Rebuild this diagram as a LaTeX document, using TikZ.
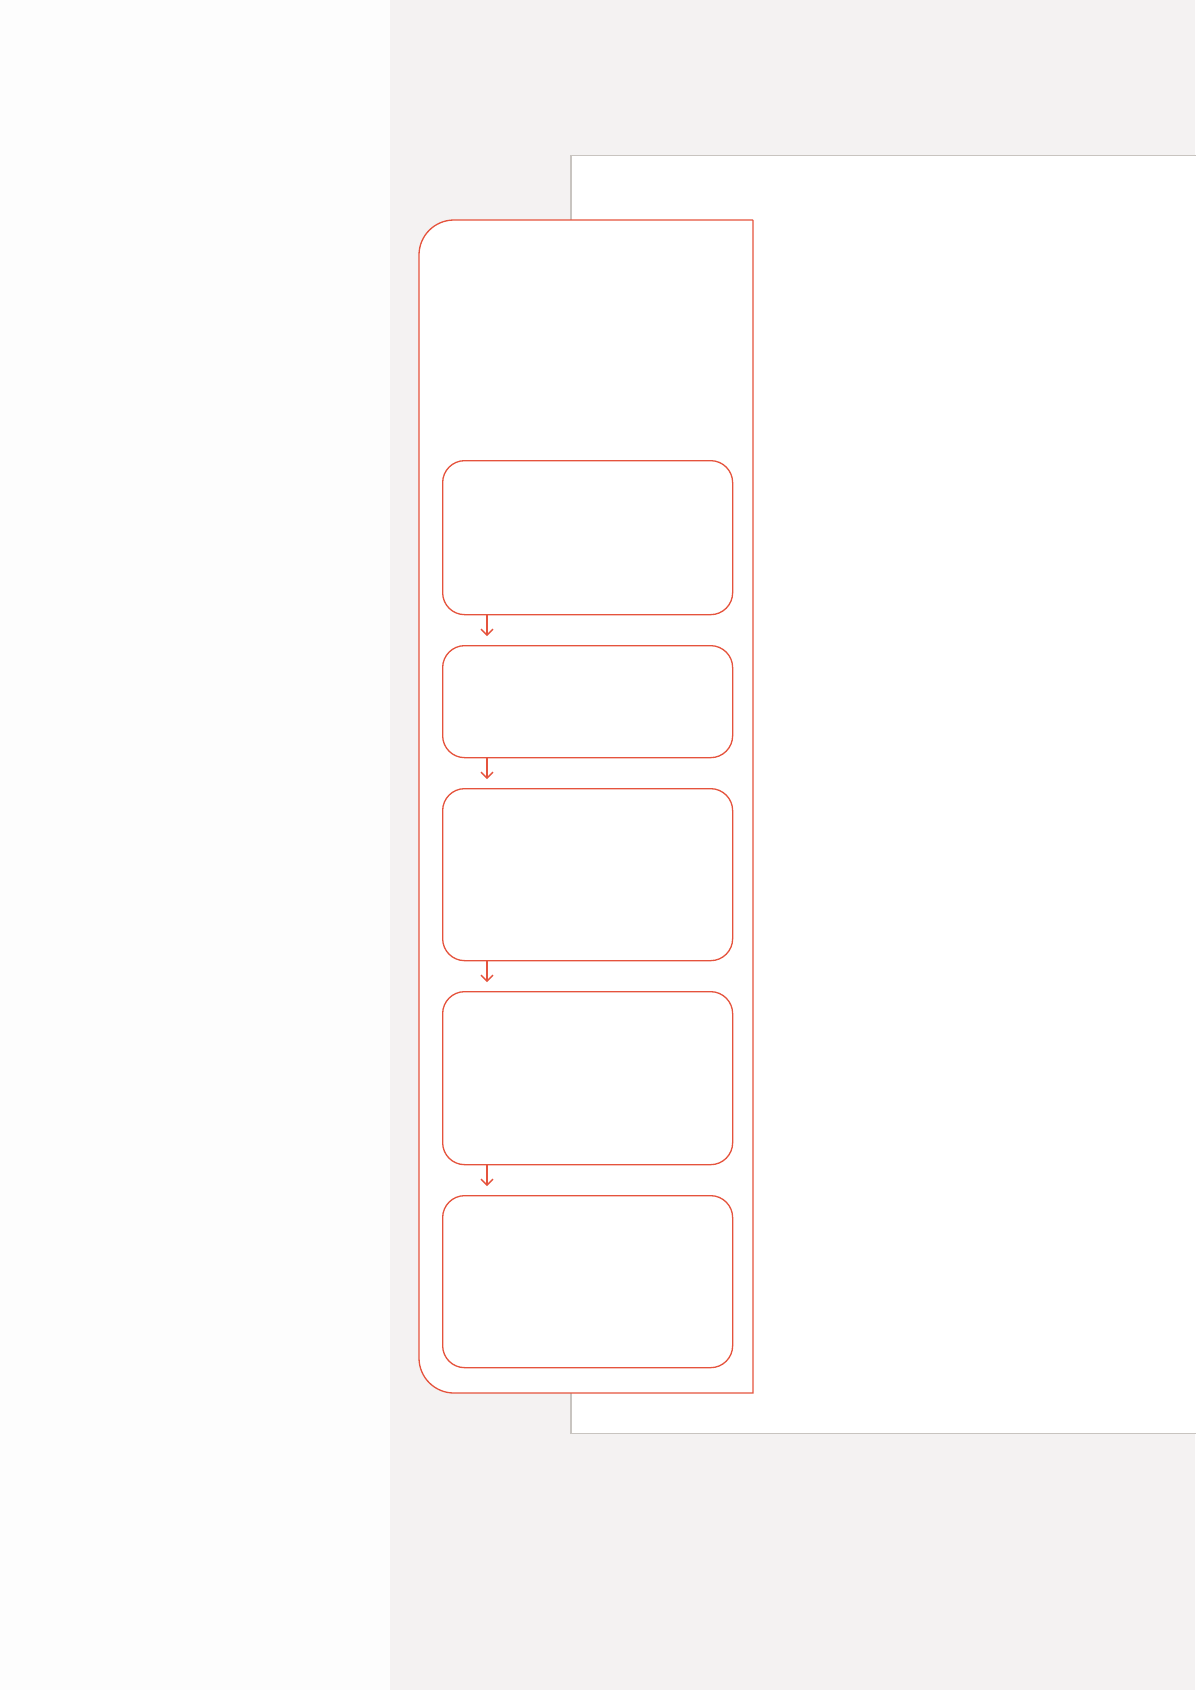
\documentclass[tikz,border=0pt]{standalone}
\usetikzlibrary{arrows.meta,calc}
\begin{document}
\begin{tikzpicture}[x=1pt,y=-1pt,
  redline/.style={draw=accentred,line width=1.3pt},
  stepbox/.style={redline,fill=white,rounded corners=22pt},
  flowarrow/.style={redline,shorten >=9pt,-{Straight Barb[length=6pt,width=12pt,line width=1.3pt]}}]
\definecolor{accentred}{HTML}{E5533D}
\definecolor{bggray}{HTML}{F4F2F2}
\definecolor{leftpanel}{HTML}{FDFDFD}
\definecolor{framegray}{HTML}{C8C4C0}
\useasboundingbox (0,0) rectangle (1195,1690);
\fill[leftpanel] (0,0) rectangle (390,1690);
\fill[bggray] (390,0) rectangle (1195,1690);
% white page
\path[fill=white,draw=framegray,line width=1.3pt] (1196,155.5) -- (571,155.5) -- (571,1433.5) -- (1196,1433.5);
% outer red panel
\draw[redline,fill=white] (753,220) -- (753,1393) [rounded corners=35pt] -- (419,1393) -- (419,220) [sharp corners] -- (753,220);
% steps
\node[stepbox,minimum width=290pt,minimum height=154pt,anchor=north west] (s1) at (442,460) {};
\node[stepbox,minimum width=290pt,minimum height=112pt,anchor=north west] (s2) at (442,645) {};
\node[stepbox,minimum width=290pt,minimum height=172pt,anchor=north west] (s3) at (442,788) {};
\node[stepbox,minimum width=290pt,minimum height=173pt,anchor=north west] (s4) at (442,991) {};
\node[stepbox,minimum width=290pt,minimum height=172pt,anchor=north west] (s5) at (442,1195) {};
\foreach \a/\b in {s1/s2,s2/s3,s3/s4,s4/s5}{
  \draw[flowarrow] ($(\a.south west)+(45,0)$) -- ($(\b.north west)+(45,0)$);
}
\end{tikzpicture}
\end{document}
